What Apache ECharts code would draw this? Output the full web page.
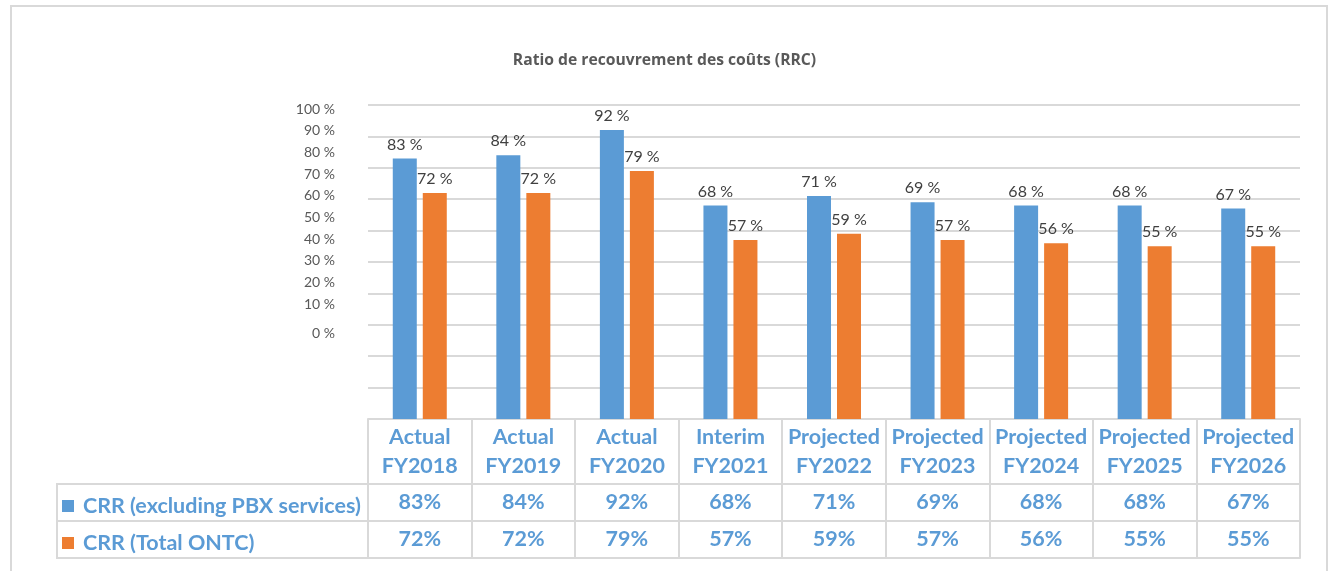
<!DOCTYPE html>
<html>
<head>
<meta charset="utf-8">
<script src="https://cdn.jsdelivr.net/npm/echarts@6/dist/echarts.min.js"></script>
<style>
  html, body { margin: 0; padding: 0; background: #fff; }
  #main { width: 1329px; height: 571px; }
</style>
</head>
<body>
<div id="main"></div>
<script>
var categories = ['Actual\nFY2018', 'Actual\nFY2019', 'Actual\nFY2020', 'Interim\nFY2021',
  'Projected\nFY2022', 'Projected\nFY2023', 'Projected\nFY2024', 'Projected\nFY2025', 'Projected\nFY2026'];
var crrExclPbx = [83, 84, 92, 68, 71, 69, 68, 68, 67];
var crrTotal = [72, 72, 79, 57, 59, 57, 56, 55, 55];
var tickLabels = ['0 %', '10 %', '20 %', '30 %', '40 %', '50 %', '60 %', '70 %', '80 %', '90 %', '100 %'];

var blue = '#5b9bd5';
var orange = '#ed7d31';
var lineGray = '#d9d9d9';
var font = 'Lato';
var tableSize = 21.5;

var myChart = echarts.init(document.getElementById('main'));

// the table rows under the plot are extra category axes pushed down with offset
function tableAxis(values, offset) {
  return {
    type: 'category',
    gridIndex: 0,
    position: 'bottom',
    offset: offset,
    data: values.map(function (v) { return v + '%'; }),
    axisLine: { show: true, lineStyle: { color: lineGray, width: 2 } },
    axisTick: { show: false },
    axisLabel: {
      interval: 0, margin: 7,
      color: blue, fontFamily: font, fontWeight: 'bold', fontSize: tableSize
    }
  };
}

var option = {
  animation: false,
  title: {
    text: 'Ratio de recouvrement des coûts (RRC)',
    left: 'center',
    top: 48,
    textStyle: { color: '#595959', fontFamily: 'Open Sans', fontWeight: 'bold', fontSize: 15.7 }
  },
  legend: {
    orient: 'vertical',
    left: 57,
    top: 490,
    itemGap: 15,
    itemWidth: 12,
    itemHeight: 12,
    icon: 'rect',
    textStyle: { color: blue, fontFamily: font, fontWeight: 'bold', fontSize: tableSize, padding: [0, 0, 0, 4] },
    data: ['CRR (excluding PBX services)', 'CRR (Total ONTC)']
  },
  grid: [
    { left: 368, right: 29, top: 105, bottom: 152 },
    // second grid only carries the (shifted) percentage tick labels
    { left: 368, right: 29, top: 109, height: 217 }
  ],
  xAxis: [
    {
      type: 'category',
      gridIndex: 0,
      data: categories,
      axisLine: { show: true, lineStyle: { color: lineGray, width: 2 } },
      axisTick: { show: true, interval: 0, length: 139, lineStyle: { color: lineGray, width: 2 } },
      axisLabel: {
        interval: 0, margin: 4, lineHeight: 29,
        color: blue, fontFamily: font, fontWeight: 'bold', fontSize: tableSize
      }
    },
    tableAxis(crrExclPbx, 65),
    tableAxis(crrTotal, 102),
    {
      type: 'category', gridIndex: 0, position: 'bottom', offset: 139,
      data: categories,
      axisLine: { show: true, lineStyle: { color: lineGray, width: 2 } },
      axisTick: { show: false }, axisLabel: { show: false }
    },
    { type: 'category', gridIndex: 1, show: false, data: categories }
  ],
  yAxis: [
    {
      type: 'value',
      gridIndex: 0,
      min: 0, max: 100, interval: 10,
      axisLine: { show: false },
      axisTick: { show: false },
      axisLabel: { show: false },
      splitLine: { lineStyle: { color: lineGray, width: 2 } }
    },
    {
      type: 'category',
      gridIndex: 1,
      boundaryGap: false,
      data: tickLabels,
      axisLine: { show: false },
      axisTick: { show: false },
      splitLine: { show: false },
      axisLabel: {
        interval: 0, margin: 33,
        color: '#595959', fontFamily: font, fontSize: 14,
        formatter: function (v) { return v === '0 %' ? '{z|' + v + '}' : v; },
        rich: { z: { padding: [15, 0, 0, 0], color: '#595959', fontFamily: font, fontSize: 14 } }
      }
    }
  ],
  series: [
    {
      name: 'CRR (excluding PBX services)',
      type: 'bar',
      xAxisIndex: 0, yAxisIndex: 0,
      data: crrExclPbx,
      barWidth: 24,
      barGap: '25%',
      itemStyle: { color: blue },
      label: { show: true, position: 'top', distance: 6, formatter: '{c} %',
        color: '#404040', fontFamily: font, fontSize: 16 }
    },
    {
      name: 'CRR (Total ONTC)',
      type: 'bar',
      xAxisIndex: 0, yAxisIndex: 0,
      data: crrTotal,
      barWidth: 24,
      barGap: '25%',
      itemStyle: { color: orange },
      label: { show: true, position: 'top', distance: 6, formatter: '{c} %',
        color: '#404040', fontFamily: font, fontSize: 16 }
    }
  ],
  graphic: [
    // outer chart frame
    { type: 'rect', shape: { x: 11, y: 6, width: 1316, height: 600 },
      style: { fill: 'none', stroke: lineGray, lineWidth: 2 }, silent: true },
    // legend cells of the data table
    { type: 'rect', shape: { x: 57, y: 484, width: 311, height: 74 },
      style: { fill: 'none', stroke: lineGray, lineWidth: 2 }, silent: true },
    { type: 'line', shape: { x1: 57, y1: 521, x2: 368, y2: 521 },
      style: { stroke: lineGray, lineWidth: 2 }, silent: true }
  ]
};

myChart.setOption(option);
</script>
</body>
</html>
